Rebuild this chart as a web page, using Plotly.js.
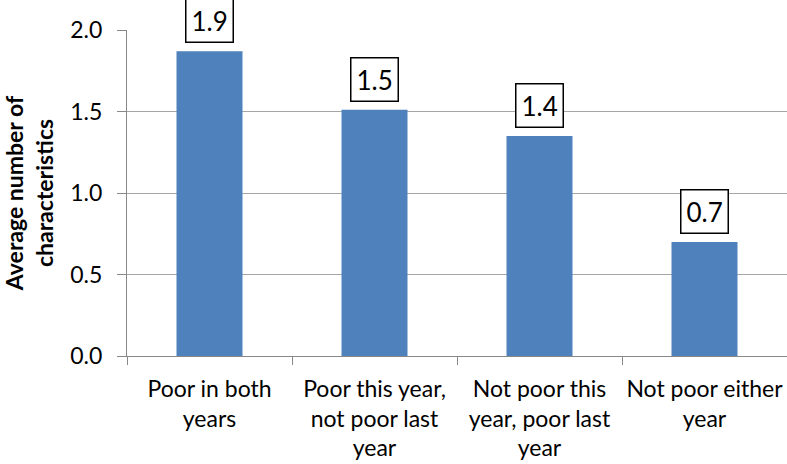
<!DOCTYPE html>
<html>
<head>
<meta charset="utf-8">
<script src="https://cdn.plot.ly/plotly-3.0.1.min.js"></script>
<style>html,body{margin:0;padding:0;background:#fff;}#chart{width:787px;height:464px;}</style>
</head>
<body>
<div id="chart"></div>
<script>
const categories = ["Poor in both years", "Poor this year, not poor last year", "Not poor this year, poor last year", "Not poor either year"];
const tickLabels = ["Poor in both<br>years", "Poor this year,<br>not poor last<br>year", "Not poor this<br>year, poor last<br>year", "Not poor either<br>year"];
const values = [1.87, 1.51, 1.35, 0.70];
const yTicks = [0, 0.5, 1.0, 1.5, 2.0];

const FONT = "Lato, 'Open Sans', sans-serif";

const trace = {
  type: "bar",
  x: categories,
  y: values,
  width: 0.4,
  marker: {color: "#4F81BD"},
  hoverinfo: "skip"
};

const annotations = categories.map((c, i) => ({
  x: c, y: values[i], xref: "x", yref: "y",
  text: values[i].toFixed(1),
  showarrow: false,
  yanchor: "bottom",
  yshift: 8,
  bordercolor: "#000", borderwidth: 1.5, borderpad: 5,
  bgcolor: "#fff",
  font: {family: FONT, size: 26, color: "#000"}
}));

const layout = {
  width: 787, height: 464,
  margin: {l: 127, r: 0, t: 30, b: 108},
  paper_bgcolor: "#fff", plot_bgcolor: "#fff",
  showlegend: false,
  font: {family: FONT, color: "#000"},
  xaxis: {
    type: "category",
    tickmode: "array", tickvals: categories, ticktext: tickLabels,
    tickson: "boundaries", ticks: "outside", ticklen: 8, tickcolor: "#888",
    showline: true, linecolor: "#888", linewidth: 1,
    showgrid: false,
    tickangle: 0,
    ticklabelstandoff: 12,
    tickfont: {family: FONT, size: 23, color: "#000"}
  },
  yaxis: {
    range: [0, 2.0],
    tickmode: "array", tickvals: yTicks, ticktext: yTicks.map(v => v.toFixed(1)),
    ticks: "outside", ticklen: 9, tickcolor: "#888",
    showline: true, linecolor: "#888", linewidth: 1,
    showgrid: true, gridcolor: "#A6A6A6", gridwidth: 1,
    zeroline: false,
    ticklabelstandoff: 10,
    tickfont: {family: FONT, size: 23, color: "#000"},
    title: {text: "<b>Average number of<br>characteristics</b>", font: {family: FONT, size: 23, color: "#000"}, standoff: 14}
  },
  bargap: 0.6,
  annotations: annotations
};

Plotly.newPlot("chart", [trace], layout, {displayModeBar: false, staticPlot: true});
</script>
</body>
</html>
